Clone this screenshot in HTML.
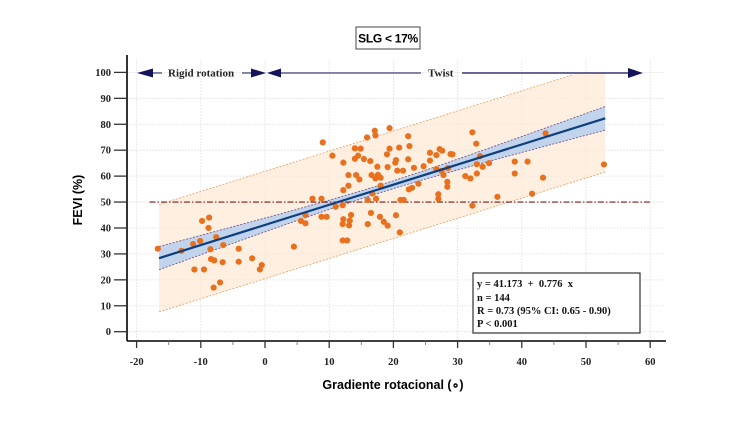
<!DOCTYPE html>
<html><head><meta charset="utf-8"><style>
body{margin:0;background:#fff;width:750px;height:422px;overflow:hidden}
svg text{font-family:"Liberation Serif",serif;font-weight:bold}
.sans{font-family:"Liberation Sans",sans-serif}
</style></head><body>
<svg id="chart" width="750" height="422" viewBox="0 0 750 422"></svg>
<script>
const xTicks=[-20,-10,0,10,20,30,40,50,60];
const yTicks=[0,10,20,30,40,50,60,70,80,90,100];
const xs=[-16.7,-13,-11.2,-11,-10.1,-9.8,-9.5,-8.7,-8.8,-8.5,-8.4,-7.9,-7.6,-8,-7,-6.6,-6.5,-4.1,-4.1,-2,-0.8,-0.5,4.5,5.6,6.3,6.3,7.4,8.8,8.8,
9,10.5,11,12.2,12.2,12.1,12.2,12.1,12.1,12.8,13,13,13.1,13.4,13.2,14,14,14.2,14.7,14.5,14.9,15.4,15.9,16,16,16.4,16.6,16.5,16.7,17.1,17.2,17.2,17.3,17.5,17.6,17.9,18,18,18.5,19.1,19,19.1,19.4,19.4,20.4,20.3,20.4,20.6,20.9,21,21.1,21.6,21.5,22.3,22.3,22.5,22.4,22.9,23.2,23.9,24.7,25.7,25.7,26.7,26.7,27,27,27.2,27.5,27.6,27.8,28.4,28.4,28.5,28.9,29.2,31.2,32,32.3,32.3,32.9,33,33,33.5,33.9,34.9,36.2,38.9,38.9,40.9,41.6,43.3,43.7,52.8,9.6];
const ys=[32,31.2,33.8,24,35,42.7,24,44,40,31.8,28,27.5,36.5,17,19,26.8,33.4,32,27,28.3,24,25.7,32.8,42.7,41.8,45,51.3,51.3,44.3,
73,67.9,48.2,65.2,54.6,48.8,43.4,41.5,35.2,35.2,56.3,60.4,41,45,42.8,70.7,66.7,60.4,58.7,67.9,70.6,66.6,74.9,50.8,41.5,65.8,60.4,45.8,53.3,77.5,75.7,59.1,51.3,63.6,60.5,44.3,59.4,56.3,42.4,40.9,68.4,63.5,78.5,70.6,44.9,65.2,66.2,62.1,71,38.3,50.8,50.8,62.1,75.4,66.5,71.6,54.9,55.5,63.2,57.1,63.8,66,69,62.7,68.1,53,51.2,70.4,62,69.8,60.4,57.8,55.9,63.1,68.5,68.4,60,59.1,76.9,48.6,72.5,64.6,61,67.7,63.6,65,52,65.6,61,65.6,53.2,59.4,76.5,64.5,44.3];
const intercept=41.173, slope=0.776;
const NS="http://www.w3.org/2000/svg";
const svg=document.getElementById('chart');
const X=v=>265+v*6.42, Y=v=>331.7-v*2.593;
function el(t,a,p){const e=document.createElementNS(NS,t);for(const k in a)e.setAttribute(k,a[k]);(p||svg).appendChild(e);return e;}
xTicks.forEach(t=>{const g=el('line',{x1:X(t),x2:X(t),y1:60,y2:340,stroke:'#e4e4e4','stroke-width':0.8,'stroke-dasharray':'2,1'});

});
yTicks.forEach(t=>{const g=el('line',{x1:128,x2:665,y1:Y(t),y2:Y(t),stroke:'#e4e4e4','stroke-width':0.8,'stroke-dasharray':'2,1'});

});
const x0=-16.5,x1=53,pi=20.7,xm=18;
let up=[],lo=[],cu=[],cl=[];
for(let i=0;i<=40;i++){const x=x0+(x1-x0)*i/40,yh=intercept+slope*x,se=Math.sqrt(2.25+0.0151*(x-xm)*(x-xm));
up.push([X(x),Y(Math.min(100,yh+pi))]);lo.push([X(x),Y(yh-pi)]);cu.push([X(x),Y(yh+se)]);cl.push([X(x),Y(yh-se)]);}
const pts=a=>a.map(p=>p.join(',')).join(' ');
const pb=el('polygon',{points:pts(up)+' '+pts(lo.slice().reverse()),fill:'#fde9d6','fill-opacity':0.75});


const upl=el('polyline',{points:pts(up.filter(p=>p[1]>Y(100)+0.1)),fill:'none',stroke:'#e8a060','stroke-width':0.8,'stroke-dasharray':'2,1.5'});


const lol=el('polyline',{points:pts(lo),fill:'none',stroke:'#e8a060','stroke-width':0.8,'stroke-dasharray':'2,1.5'});


const cb=el('polygon',{points:pts(cu)+' '+pts(cl.slice().reverse()),fill:'#b7cfec','fill-opacity':0.85});


[cu,cl].forEach(a=>{const l=el('polyline',{points:pts(a),fill:'none',stroke:'#6a4a8a','stroke-width':0.8,'stroke-dasharray':'2,1.5'});

});
const th=el('line',{x1:X(-18),x2:X(60),y1:Y(50),y2:Y(50),stroke:'#7a1a1a','stroke-width':1.1,'stroke-dasharray':'6,2,1.5,2'});


xs.forEach((x,i)=>{const c=el('circle',{cx:X(x),cy:Y(ys[i]),r:3.1,fill:'#e8711f'});

});
const rl=el('line',{x1:X(x0),y1:Y(intercept+slope*x0),x2:X(x1),y2:Y(intercept+slope*x1),stroke:'#0e3f7e','stroke-width':2.2});


const ya=el('line',{x1:127,x2:127,y1:55,y2:341,stroke:'#000','stroke-width':1.6});


const xa=el('line',{x1:127,x2:666,y1:341,y2:341,stroke:'#000','stroke-width':1.6});


yTicks.forEach(t=>{el('line',{x1:114,x2:127,y1:Y(t),y2:Y(t),stroke:'#333','stroke-width':1.3});
const tx=el('text',{x:111,y:Y(t)+3.5,'text-anchor':'end','font-size':10.5,fill:'#222'});tx.textContent=t;

});
xTicks.forEach((t,i)=>{el('line',{x1:X(t),x2:X(t),y1:341,y2:348,stroke:'#333','stroke-width':1.3});
if(i<xTicks.length-1)el('line',{x1:X(t+5),x2:X(t+5),y1:341,y2:345,stroke:'#666','stroke-width':0.8});
const tx=el('text',{x:X(t),y:365,'text-anchor':'middle','font-size':10.5,fill:'#222'});tx.textContent=t;

});
</script>
<svg width="750" height="422" style="position:absolute;left:0;top:0">
<rect x="356" y="27" width="64" height="22" fill="#fff" stroke="#444" stroke-width="1"/>
<text class="sans" x="388" y="42.5" text-anchor="middle" font-size="12" letter-spacing="-0.3">SLG &lt; 17%</text>
<g fill="#14145a" stroke="#14145a">
<polygon points="137,73 153,68.5 153,77.5" stroke="none"/>
<line x1="153" y1="73" x2="162" y2="73" stroke-width="1"/>
<line x1="242" y1="73" x2="252" y2="73" stroke-width="1"/>
<polygon points="266,73 251,68.5 251,77.5" stroke="none"/>
<polygon points="267,73 281,68.5 281,77.5" stroke="none"/>
<line x1="281" y1="73" x2="421" y2="73" stroke-width="1"/>
<line x1="462" y1="73" x2="629" y2="73" stroke-width="1.3"/>
<polygon points="643,73 628,68 628,78" stroke="none"/>
</g>
<text x="168" y="76.5" font-size="11" fill="#222">Rigid rotation</text>
<text x="428" y="76.5" font-size="11" fill="#222">Twist</text>
<rect x="473" y="273" width="167" height="60" fill="#fff" stroke="#333" stroke-width="1.2"/>
<g font-size="10.5" fill="#111">
<text x="477" y="287" style="white-space:pre" xml:space="preserve">y = 41.173  +  0.776  x</text>
<text x="477" y="301">n = 144</text>
<text x="477" y="314">R = 0.73 (95% CI: 0.65 - 0.90)</text>
<text x="477" y="327">P &lt; 0.001</text>
</g>
<text class="sans" x="393" y="389" text-anchor="middle" font-size="12.5">Gradiente rotacional (∘)</text>
<text class="sans" x="82" y="200" text-anchor="middle" font-size="12.5" transform="rotate(-90 82 200)">FEVI (%)</text>
</svg>
</body></html>
